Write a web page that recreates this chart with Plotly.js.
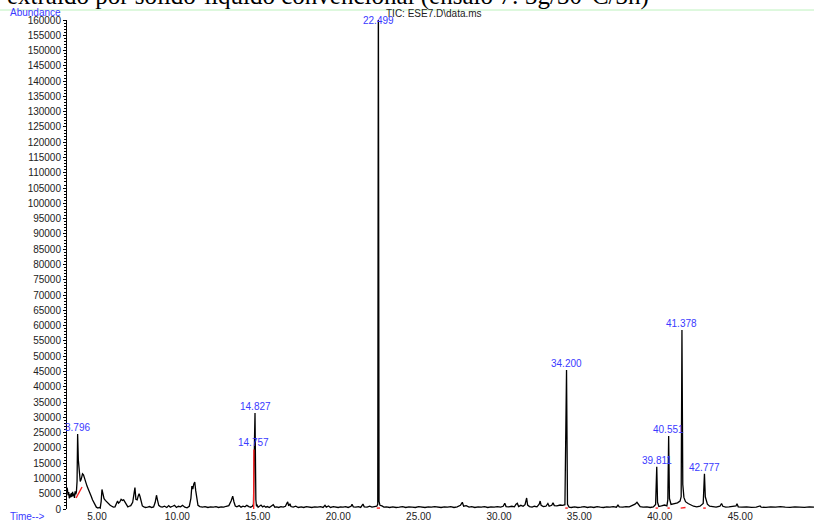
<!DOCTYPE html>
<html>
<head>
<meta charset="utf-8">
<script src="https://cdn.plot.ly/plotly-3.0.1.min.js"></script>
<style>html,body{margin:0;padding:0;background:#fff;}#chart{width:814px;height:520px;}</style>
</head>
<body>
<div id="chart"></div>
<script>
// Retention time (min) of the total ion chromatogram
const retentionTime = [
3.135,3.16,3.20,3.24,3.28,3.32,3.36,3.40,3.44,3.48,3.52,3.56,3.60,3.64,3.68,3.72,3.76,3.796,3.84,3.90,
3.96,4.02,4.10,4.16,4.22,4.30,4.38,4.46,4.56,4.64,4.72,4.80,4.88,4.96,5.06,5.14,5.20,5.26,5.31,5.36,
5.44,5.52,5.62,5.72,5.82,5.92,6.02,6.12,6.20,6.28,6.34,6.42,6.50,6.58,6.66,6.74,6.82,6.92,7.00,7.10,
7.22,7.30,7.36,7.42,7.50,7.56,7.62,7.68,7.74,7.82,7.92,8.02,8.14,8.28,8.40,8.52,8.62,8.70,8.76,8.84,
8.94,9.06,9.20,9.34,9.46,9.56,9.70,9.82,9.94,10.06,10.20,10.32,10.46,10.60,10.74,10.84,10.90,10.96,11.02,11.08,
11.14,11.20,11.28,11.40,11.56,11.72,11.90,12.06,12.24,12.40,12.56,12.72,12.88,13.04,13.20,13.34,13.44,13.52,13.60,13.70,
13.84,13.96,14.08,14.20,14.32,14.44,14.56,14.66,14.73,14.80,14.827,14.88,14.92,14.96,15.02,15.10,15.20,15.30,15.40,15.50,
15.60,15.72,15.84,15.96,16.06,16.18,16.30,16.44,16.58,16.72,16.80,16.86,16.92,17.00,17.06,17.20,17.36,17.52,17.70,17.86,
18.02,18.18,18.36,18.54,18.72,18.90,19.06,19.18,19.26,19.40,19.52,19.70,19.86,20.00,20.14,20.30,20.46,20.62,20.80,20.86,
20.94,21.10,21.26,21.40,21.54,21.62,21.80,21.96,22.10,22.26,22.40,22.46,22.499,22.54,22.60,22.72,22.84,23.00,23.20,23.40,
23.60,23.80,24.00,24.20,24.40,24.60,24.80,25.00,25.20,25.40,25.60,25.80,26.00,26.20,26.40,26.60,26.80,27.00,27.20,27.40,
27.60,27.72,27.80,27.96,28.14,28.30,28.50,28.70,28.90,29.10,29.30,29.50,29.70,29.90,30.10,30.26,30.36,30.44,30.60,30.80,
30.96,31.06,31.14,31.22,31.36,31.50,31.62,31.72,31.78,31.90,32.06,32.20,32.36,32.50,32.56,32.62,32.76,32.92,33.04,33.12,
33.28,33.36,33.44,33.60,33.80,33.96,34.10,34.20,34.26,34.36,34.50,34.70,34.90,35.10,35.30,35.50,35.70,35.90,36.10,36.30,
36.50,36.70,36.90,37.10,37.30,37.40,37.48,37.70,37.90,38.10,38.30,38.46,38.58,38.66,38.78,38.96,39.20,39.40,39.60,39.74,
39.811,39.86,39.94,40.10,40.30,40.44,40.50,40.551,40.60,40.70,40.90,41.10,41.26,41.33,41.378,41.43,41.50,41.60,41.76,41.94,
42.10,42.30,42.50,42.70,42.777,42.83,42.90,42.96,43.10,43.30,43.50,43.74,43.84,43.92,44.10,44.30,44.50,44.74,44.80,44.88,
45.10,45.40,45.70,46.00,46.24,46.30,46.60,46.90,47.20,47.50,47.80,48.10,48.40,48.70,49.00,49.30,49.59
];
// Abundance (TIC counts)
const abundance = [
7000,6500,4500,5500,3500,4800,3800,5200,4000,5600,4200,5000,3600,5800,4800,5600,9000,24500,16000,10500,
9000,9800,11500,11200,10000,8500,7500,6500,5500,4200,3000,2000,1200,600,300,500,300,2500,6400,5000,
3400,2800,2200,1800,1200,900,600,700,1500,2600,1900,2300,3200,2800,3000,2200,1300,700,900,1100,
2200,6200,7000,3200,3000,4200,5000,4000,2400,1000,700,500,600,800,500,700,2200,4500,3000,1200,
800,600,900,500,1100,600,900,1200,500,900,700,1200,600,400,900,3500,7500,6500,8200,8800,
6000,3000,1200,800,600,800,500,700,600,800,500,700,600,900,1100,2600,4200,2300,1000,700,
1100,600,900,700,1200,800,600,900,1500,24000,31400,3000,900,1200,600,900,1300,700,1000,600,
800,500,900,1400,600,700,500,800,600,900,1800,2300,1000,1700,800,600,900,500,700,500,
800,600,500,700,600,800,500,1200,600,1000,500,800,600,500,700,600,800,500,900,1500,
700,600,800,500,1600,700,600,900,600,800,900,1500,175000,2500,1200,1000,600,700,500,700,
500,600,800,500,700,600,500,800,600,500,700,600,800,600,500,700,600,800,500,700,
1200,2200,900,1100,600,800,500,700,600,800,500,700,600,800,600,900,1900,800,700,900,
700,1600,1900,800,1200,900,1400,3600,1300,800,600,900,700,1600,2600,1200,800,900,1800,900,
1200,2000,1100,1000,1300,1200,1400,45500,1500,600,500,700,500,600,800,500,700,500,800,600,
500,700,600,800,600,1300,700,600,800,700,1200,1600,2200,1500,800,600,700,500,700,1500,
13800,2200,800,1000,1300,1000,3000,23900,3500,1500,1800,2000,2600,4000,58600,8000,3800,2400,1800,1200,
900,700,900,1800,11500,4000,3000,1600,900,700,600,900,1800,900,600,700,800,1000,1700,700,
600,700,500,600,1000,600,500,700,600,800,600,500,700,600,500,700,600
];
// Labelled peaks
const peakTimes = [3.796, 14.757, 14.827, 22.499, 34.200, 39.811, 40.551, 41.378, 42.777];
const peakLabels = ["3.796", "14.757", "14.827", "22.499", "34.200", "39.811", "40.551", "41.378", "42.777"];
const peakTops = [24500, 19500, 31400, 160000, 45500, 13800, 23900, 58600, 11500];
// Integration baseline segments (red)
const intStartT = [3.70, 14.745, 22.40, 34.12, 39.74, 40.48, 41.30, 42.70];
const intStartA = [3600, 0, 300, 300, 300, 300, 300, 300];
const intEndT   = [4.07, 14.757, 22.60, 34.28, 39.88, 40.62, 41.60, 42.86];
const intEndA   = [7200, 19500, 300, 300, 300, 300, 500, 300];
const yTickVals = [0,5000,10000,15000,20000,25000,30000,35000,40000,45000,50000,55000,60000,65000,70000,75000,80000,85000,90000,95000,100000,105000,110000,115000,120000,125000,130000,135000,140000,145000,150000,155000,160000];

const redX = [], redY = [];
for (let i = 0; i < intStartT.length; i++) {
  redX.push(intStartT[i], intEndT[i], null);
  redY.push(intStartA[i], intEndA[i], null);
}

const traces = [
  {x: retentionTime, y: abundance, type: 'scatter', mode: 'lines',
   line: {color: '#000', width: 1.3}, hoverinfo: 'skip'},
  {x: redX, y: redY, type: 'scatter', mode: 'lines',
   line: {color: '#ff2020', width: 1.4}, hoverinfo: 'skip', connectgaps: false}
];

const blue = '#3a3aff';
const lf = 'Liberation Sans, Arial, sans-serif';
const annotations = peakTimes.map((t, i) => ({
  x: t, y: Math.min(peakTops[i], 160000), xref: 'x', yref: 'y',
  text: peakLabels[i], showarrow: false, xanchor: 'center', yanchor: 'bottom',
  yshift: peakTops[i] >= 160000 ? -8 : -1,
  font: {family: lf, size: 10, color: blue}
}));
annotations.push(
  {xref: 'paper', yref: 'paper', x: -0.083, y: 1.0164, xanchor: 'left', yanchor: 'bottom',
   text: 'extraído por sólido-líquido convencional (ensaio 7: 3g/30°C/3h)', showarrow: false,
   font: {family: 'Liberation Serif, Times New Roman, serif', size: 25, color: '#000'}},
  {xref: 'paper', yref: 'paper', x: -0.079, y: 1.0, xanchor: 'left', yanchor: 'bottom',
   text: 'Abundance', showarrow: false, yshift: 0, font: {family: lf, size: 10, color: blue}},
  {xref: 'paper', yref: 'paper', x: 0.425, y: 1.0, xanchor: 'left', yanchor: 'bottom',
   text: 'TIC: ESE7.D\\data.ms', showarrow: false, yshift: -1, font: {family: lf, size: 10, color: '#222'}},
  {xref: 'paper', yref: 'paper', x: -0.079, y: 0, xanchor: 'left', yanchor: 'top',
   text: 'Time-->', showarrow: false, yshift: 0, font: {family: lf, size: 10, color: blue}}
);

const layout = {
  width: 814, height: 520,
  margin: {l: 67, r: 0, t: 20, b: 11, pad: 0},
  paper_bgcolor: '#fff', plot_bgcolor: '#fff',
  showlegend: false, hovermode: false,
  xaxis: {range: [3.135, 49.59], tick0: 0, dtick: 5, tickformat: '.2f',
          showgrid: false, zeroline: false, showline: false, ticks: '',
          tickfont: {family: lf, size: 10, color: '#222'}},
  yaxis: {range: [0, 160000], tickvals: yTickVals, tickformat: 'd',
          showgrid: false, zeroline: false, showline: true, linecolor: '#000', linewidth: 1,
          ticks: 'outside', ticklen: 3, tickcolor: '#000', tickwidth: 1,
          minor: {dtick: 1000, ticks: 'outside', ticklen: 2, tickcolor: '#000', tickwidth: 1},
          tickfont: {family: lf, size: 10, color: '#222'}},
  shapes: [{type: 'line', xref: 'paper', yref: 'paper', x0: -0.0897, x1: 1, y0: 1.0204, y1: 1.0204,
            line: {color: '#bdf2bd', width: 1}}],
  annotations: annotations
};

Plotly.newPlot('chart', traces, layout, {displayModeBar: false, staticPlot: true});
</script>
</body>
</html>
